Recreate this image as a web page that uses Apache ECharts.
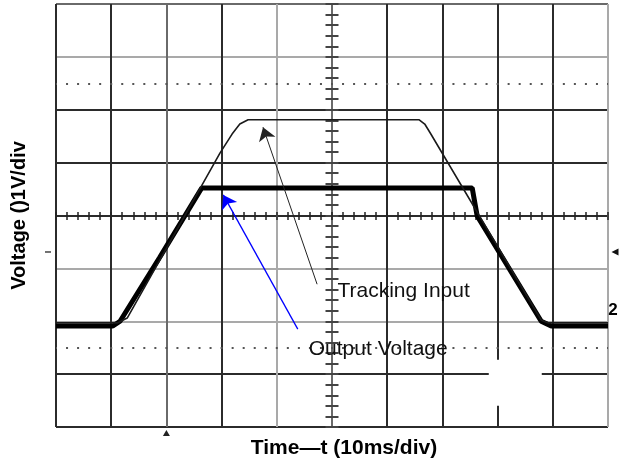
<!DOCTYPE html>
<html>
<head>
<meta charset="utf-8">
<script src="https://cdn.jsdelivr.net/npm/echarts@6/dist/echarts.min.js"></script>
<style>html,body{margin:0;padding:0;background:#fff;}#c{width:624px;height:464px;}</style>
</head>
<body>
<div id="c"></div>
<script>
// ---- data (in divisions: x = 10 ms/div, y = 1 V/div) ----
const timeIn  = [0, 1.12, 1.29, 2.97, 3.19, 3.33, 3.48, 6.58, 6.68, 6.78, 8.79, 8.91, 10];
const voltIn  = [1.97, 1.97, 2.06, 5.18, 5.54, 5.73, 5.81, 5.81, 5.73, 5.56, 2.02, 1.97, 1.97];
const timeOut = [0, 1.03, 1.16, 1.88, 2.64, 7.54, 7.63, 8.79, 8.97, 10];
const voltOut = [1.91, 1.91, 2.00, 3.21, 4.52, 4.52, 3.99, 2.00, 1.91, 1.91];
const labelInput = 'Tracking Input';
const labelOutput = 'Output Voltage';
const labelInputPos = [5.09, 2.57];
const labelOutputPos = [4.57, 1.47];
const arrowInput = [[4.73, 2.70], [3.75, 5.67]];
const arrowOutput = [[4.38, 1.85], [3.03, 4.39]];
const dottedLevels = [1.5, 6.5];
const coverBox = [[7.84, 1.27], [8.80, 0.40]];
const markerLevel = 3.31;
const xTitle = 'Time—t (10ms/div)';
const yTitle = 'Voltage ()1V/div';

const D = '#2b2b2b', G = '#a9a9a9', M = '#6a6a6a';
const vColors = [D, D, M, D, G, M, D, D, D, D, G];
const hColors = [D, D, G, G, D, D, D, G, M];
const FONT = 'Liberation Sans, Arial, sans-serif';

const zip = (a, b) => a.map((v, i) => [v, b[i]]);

const chart = echarts.init(document.getElementById('c'), null, {renderer: 'canvas'});
chart.setOption({
  animation: false,
  grid: {left: 56, right: 16, top: 4, bottom: 37},
  xAxis: [{
    type: 'value', min: 0, max: 10, interval: 1, position: 'bottom',
    axisLine: {show: false, onZero: false}, axisTick: {show: false}, axisLabel: {show: false},
    splitLine: {show: true, lineStyle: {color: vColors, width: 2}},
    name: xTitle, nameLocation: 'middle', nameGap: 11,
    nameTextStyle: {fontFamily: FONT, fontSize: 21, fontWeight: 'bold', color: '#000', padding: [0, 0, 0, 24]}
  }, {
    type: 'value', min: 0, max: 10, interval: 0.2, position: 'bottom', offset: -207,
    axisLine: {show: false, onZero: false},
    axisTick: {show: true, inside: true, length: 8, lineStyle: {color: '#222', width: 1.5}},
    axisLabel: {show: false}, splitLine: {show: false}
  }],
  yAxis: [{
    type: 'value', min: 0, max: 8, interval: 1, position: 'left',
    axisLine: {show: false, onZero: false}, axisTick: {show: false}, axisLabel: {show: false},
    splitLine: {show: true, lineStyle: {color: hColors, width: 2}},
    name: yTitle, nameLocation: 'middle', nameGap: 27, nameRotate: 90,
    nameTextStyle: {fontFamily: FONT, fontSize: 20, fontWeight: 'bold', color: '#000'}
  }, {
    type: 'value', min: 0, max: 8, interval: 0.2, position: 'left', offset: -269.5,
    axisLine: {show: false, onZero: false},
    axisTick: {show: true, inside: true, length: 13, lineStyle: {color: '#444', width: 2}},
    axisLabel: {show: false}, splitLine: {show: false}
  }],
  series: [{
    name: 'Output Voltage', type: 'line', xAxisIndex: 0, yAxisIndex: 0,
    data: zip(timeOut, voltOut), showSymbol: false, symbol: 'none', silent: true,
    lineStyle: {color: '#000', width: 5}, z: 3,
    markLine: {
      silent: true, symbol: 'none', label: {show: false},
      lineStyle: {color: '#555', width: 2, type: [2, 9.04], dashOffset: 1},
      data: dottedLevels.map(v => ({yAxis: v}))
    },
    markArea: {
      silent: true, itemStyle: {color: '#fff'},
      data: [[{coord: coverBox[0]}, {coord: coverBox[1]}]]
    },
    markPoint: {
      silent: true,
      data: [
        {coord: [2, 0], symbol: 'triangle', symbolSize: [7, 6], symbolOffset: [0, 6], itemStyle: {color: '#222'}, label: {show: false}},
        {coord: [10, markerLevel], symbol: 'triangle', symbolRotate: 90, symbolSize: [7, 7], symbolOffset: [7, 0], itemStyle: {color: '#111'}, label: {show: false}},
        {coord: [0, markerLevel], symbol: 'rect', symbolSize: [6, 1.5], symbolOffset: [-8, 0], itemStyle: {color: '#444'}, label: {show: false}},
        {coord: [10, 2.2], symbol: 'rect', symbolSize: 1, symbolOffset: [5, 0], itemStyle: {color: 'rgba(0,0,0,0)'},
          label: {show: true, formatter: '2', position: 'inside', fontFamily: FONT, fontSize: 17, fontWeight: 'bold', color: '#000'}}
      ]
    }
  }, {
    name: 'Tracking Input', type: 'line', xAxisIndex: 0, yAxisIndex: 0,
    data: zip(timeIn, voltIn), showSymbol: false, symbol: 'none', silent: true,
    lineStyle: {color: '#1a1a1a', width: 1.6}, z: 4,
    markLine: {
      silent: true, symbol: ['none', 'arrow'], symbolSize: 13, label: {show: false},
      data: [
        [{coord: arrowInput[0]}, {coord: arrowInput[1]}],
        [{coord: arrowOutput[0], lineStyle: {color: '#0000ff', width: 1.3}}, {coord: arrowOutput[1]}]
      ],
      lineStyle: {color: '#222', width: 1, type: 'solid'}
    },
    markPoint: {
      silent: true, symbol: 'circle', symbolSize: 1, itemStyle: {color: 'rgba(0,0,0,0)'},
      label: {show: true, position: 'right', distance: 0, fontFamily: FONT, fontSize: 21, color: '#111'},
      data: [
        {coord: labelInputPos, label: {formatter: labelInput}},
        {coord: labelOutputPos, label: {formatter: labelOutput}}
      ]
    }
  }]
});
</script>
</body>
</html>
